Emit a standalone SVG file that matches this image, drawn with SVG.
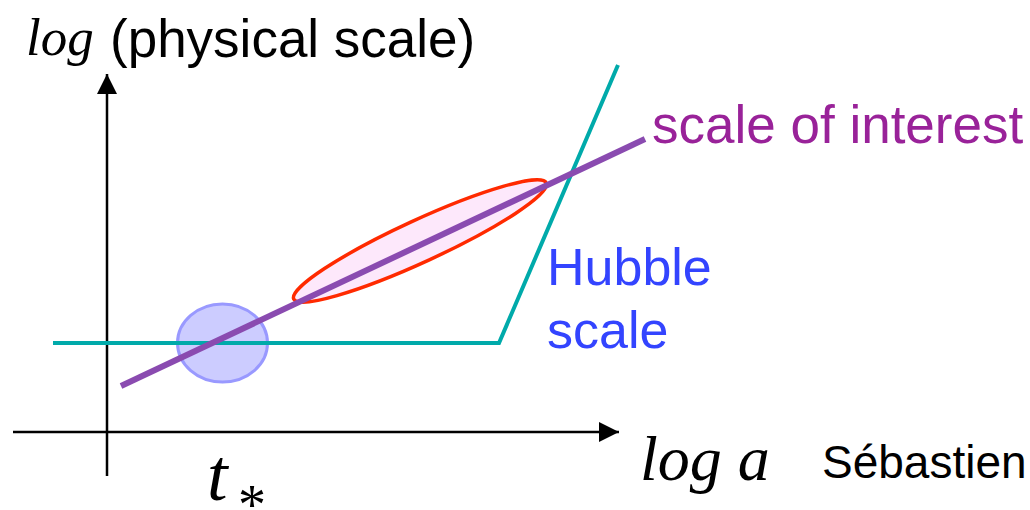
<svg xmlns="http://www.w3.org/2000/svg" width="1030" height="510" viewBox="0 0 1030 510">
<style>
.axis{stroke:#000;stroke-width:2.5;fill:none}
.serif{font-family:"Liberation Serif","Times New Roman",serif;font-style:italic}
.sans{font-family:"Liberation Sans",Arial,sans-serif}
</style>
<defs>
<marker id="arr" markerUnits="userSpaceOnUse" markerWidth="22" markerHeight="22" refX="20" refY="10" orient="auto" viewBox="0 0 22 22">
<path d="M0,0 L20,10 L0,20 Z" fill="#000"/>
</marker>
</defs>
<rect width="1030" height="510" fill="#fff"/>
<g id="axes">
<line class="axis" x1="107" y1="476" x2="107" y2="74" marker-end="url(#arr)"/>
<line class="axis" x1="13" y1="432" x2="619" y2="432" marker-end="url(#arr)"/>
</g>
<g id="blob-tstar">
<ellipse cx="222.5" cy="343" rx="45" ry="39" fill="#ccccff" stroke="#9999ff" stroke-width="3"/>
</g>
<g id="blob-interest">
<ellipse cx="420" cy="241" rx="139" ry="21" transform="rotate(-24.7 420 241)" fill="#fde8fb" stroke="#ff2a00" stroke-width="3.5"/>
</g>
<g id="connectors">
<polyline id="hubble" points="53,343 499,343 618,65" fill="none" stroke="#00aaaa" stroke-width="4"/>
<line id="interest" x1="121" y1="386" x2="645" y2="139" stroke="#8a4bb0" stroke-width="6"/>
</g>
<g id="labels">
<text class="serif" x="26" y="55" font-size="53">log</text>
<text class="sans" x="110" y="57" font-size="53">(physical scale)</text>
<text class="sans" x="652" y="143" font-size="53" fill="#992299">scale of interest</text>
<text class="sans" x="547" y="285" font-size="52" fill="#3344ff">Hubble</text>
<text class="sans" x="547" y="348" font-size="52" fill="#3344ff">scale</text>
<text class="serif" x="640" y="480" font-size="64">log a</text>
<text class="sans" x="822" y="478" font-size="46">Sébastien</text>
<text class="serif" x="207" y="500" font-size="74">t</text>
<text x="238" y="524" font-size="56" font-family="Liberation Serif,serif">*</text>
</g>
</svg>
